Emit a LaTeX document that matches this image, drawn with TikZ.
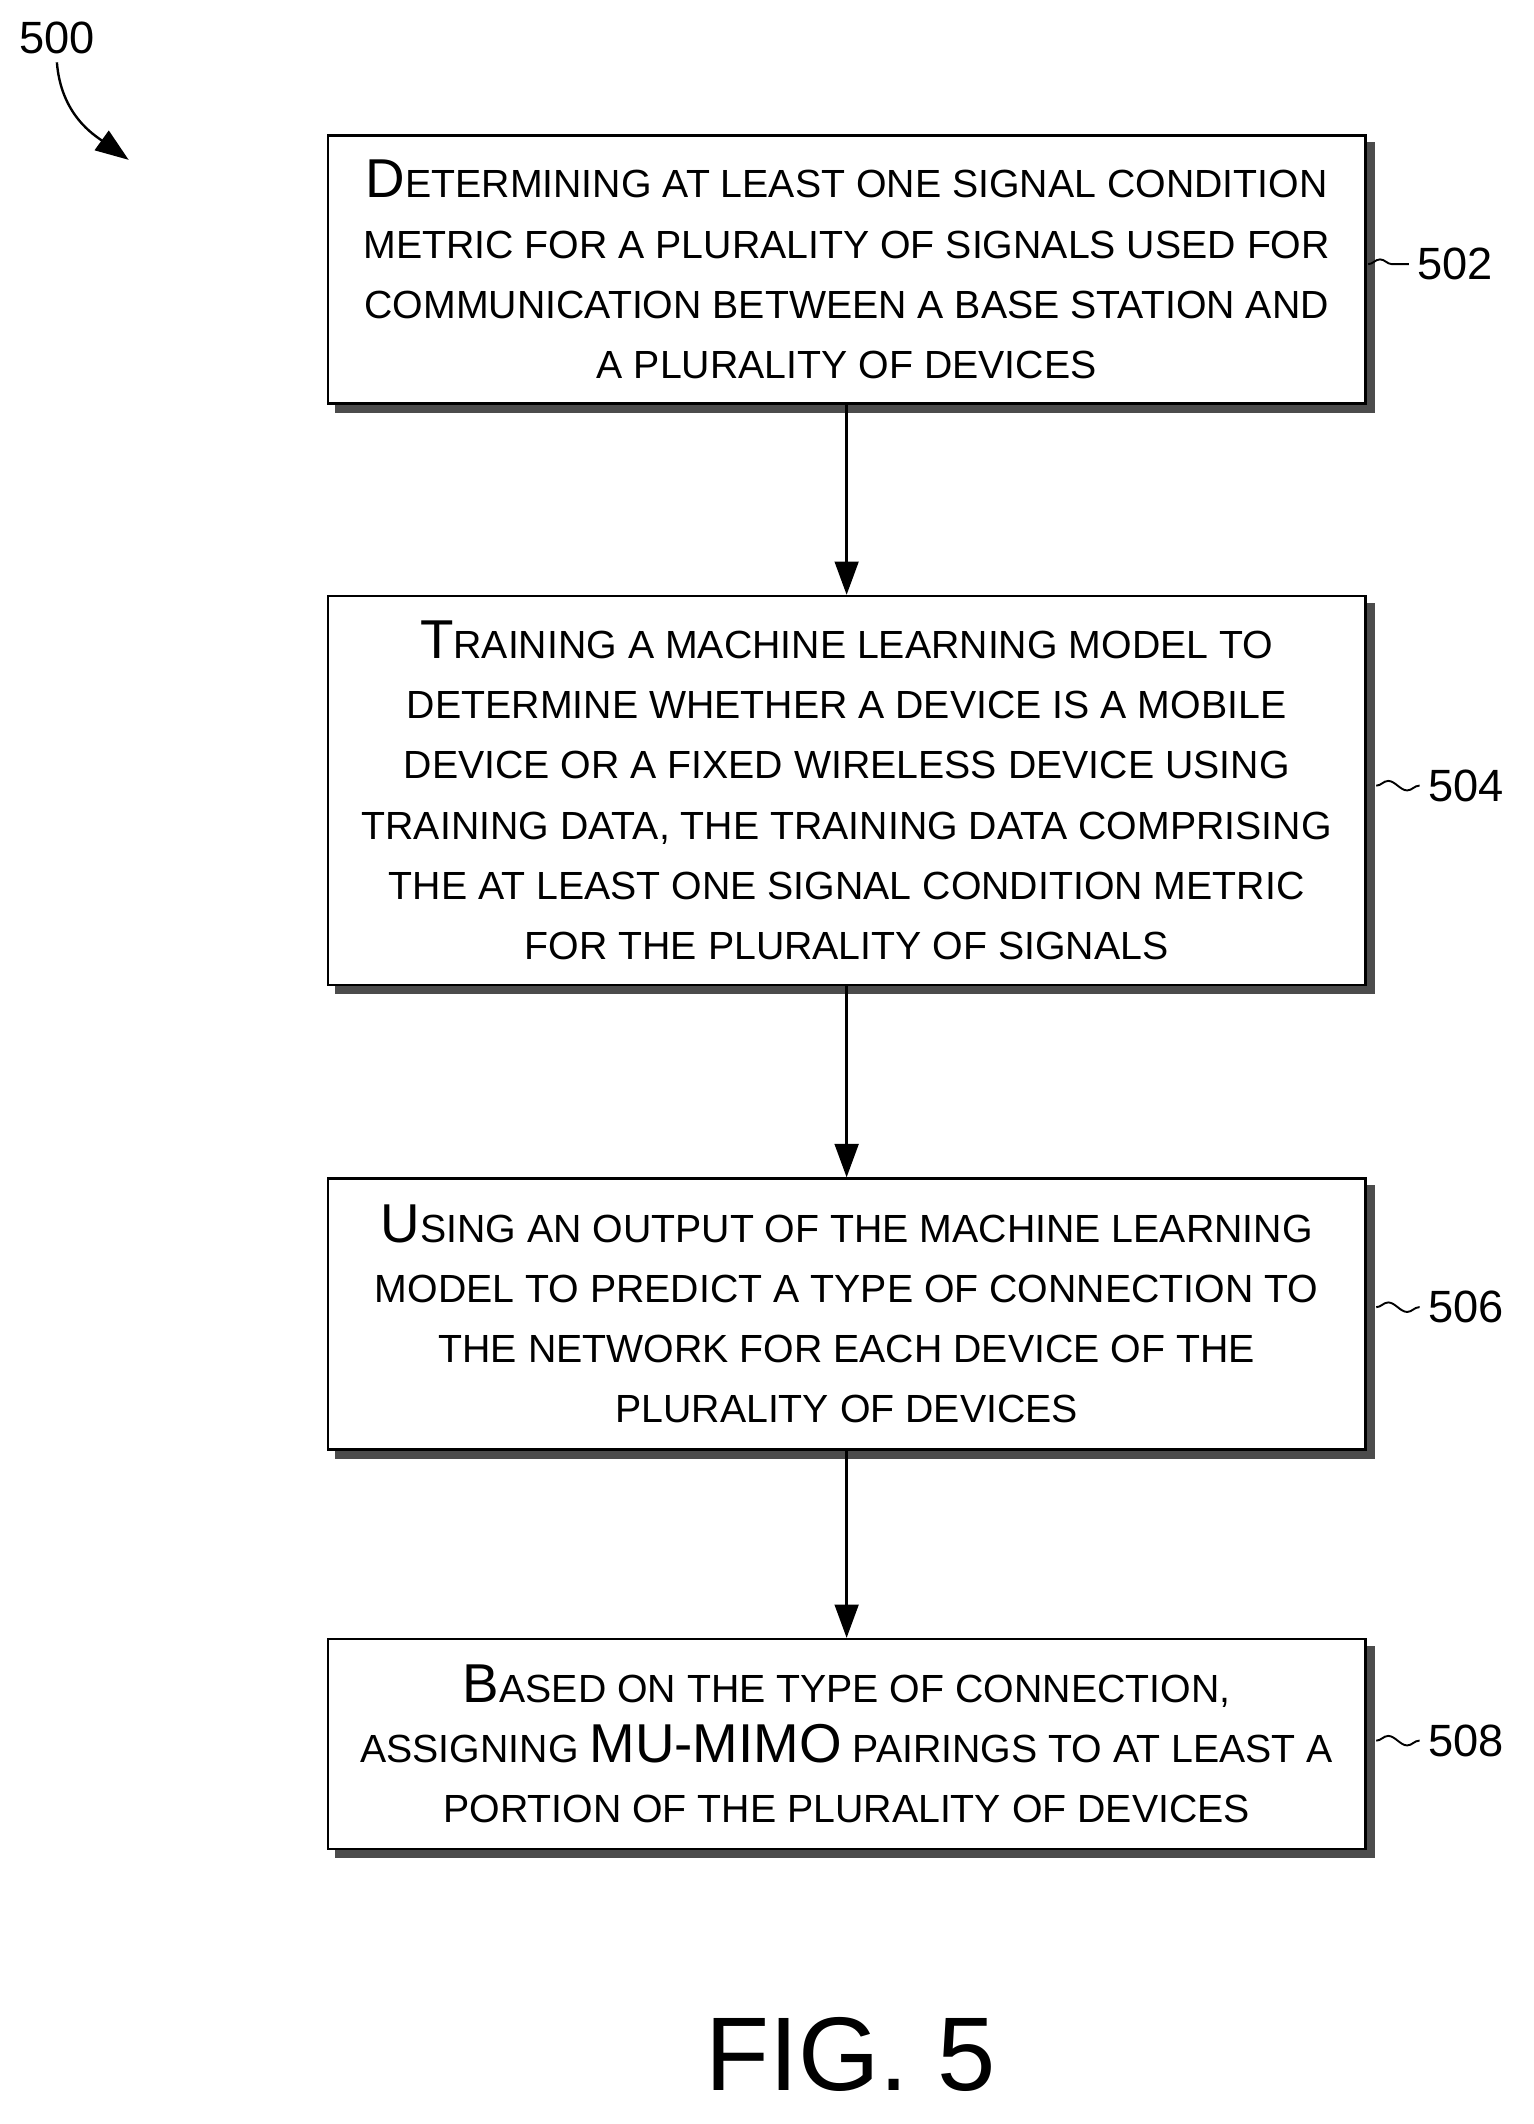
\documentclass[tikz,border=0pt]{standalone}
\usepackage{fontspec}
\setmainfont{Liberation Sans}
\usetikzlibrary{arrows.meta,decorations.pathmorphing}
\newcommand{\capl}[1]{{\fontsize{23}{25}\selectfont #1}}
\begin{document}
\begin{tikzpicture}[x=0.02cm,y=-0.02cm,
 box/.style={draw,line width=1pt,fill=white,minimum width=766*0.02cm,align=center,
   font=\fontsize{16.5}{25.3}\selectfont,
   preaction={draw=black!70,fill=black!70,transform canvas={xshift=0.12cm,yshift=-0.12cm}}},
 arr/.style={-{Triangle[length=14pt,width=10pt]},line width=1pt},
 lab/.style={font=\fontsize{19}{20}\selectfont,anchor=west},
 sq/.style={decorate,decoration={snake,amplitude=2pt,segment length=16pt},line width=0.8pt}]
\useasboundingbox (0,0) rectangle (1132,1568);
\node[box,minimum height=198*0.02cm] (b1) at (625,199) {\capl{D}ETERMINING AT LEAST ONE SIGNAL CONDITION\\METRIC FOR A PLURALITY OF SIGNALS USED FOR\\COMMUNICATION BETWEEN A BASE STATION AND\\A PLURALITY OF DEVICES};
\node[box,minimum height=287*0.02cm] (b2) at (625,583.5) {\capl{T}RAINING A MACHINE LEARNING MODEL TO\\DETERMINE WHETHER A DEVICE IS A MOBILE\\DEVICE OR A FIXED WIRELESS DEVICE USING\\TRAINING DATA, THE TRAINING DATA COMPRISING\\THE AT LEAST ONE SIGNAL CONDITION METRIC\\FOR THE PLURALITY OF SIGNALS};
\node[box,minimum height=200*0.02cm] (b3) at (625,970) {\capl{U}SING AN OUTPUT OF THE MACHINE LEARNING\\MODEL TO PREDICT A TYPE OF CONNECTION TO\\THE NETWORK FOR EACH DEVICE OF THE\\PLURALITY OF DEVICES};
\node[box,minimum height=155*0.02cm] (b4) at (625,1287.5) {\capl{B}ASED ON THE TYPE OF CONNECTION,\\ASSIGNING \capl{MU-MIMO} PAIRINGS TO AT LEAST A\\PORTION OF THE PLURALITY OF DEVICES};
\draw[arr] (b1.south) -- (b2.north);
\draw[arr] (b2.south) -- (b3.north);
\draw[arr] (b3.south) -- (b4.north);
\node[lab] (l1) at (1040,195) {502};
\node[lab] (l2) at (1048,580) {504};
\node[lab] (l3) at (1048,965) {506};
\node[lab] (l4) at (1048,1285) {508};
\draw[sq] (1010,195) -- (l1.west);
\draw[sq] (1016,580) -- (l2.west);
\draw[sq] (1016,965) -- (l3.west);
\draw[sq] (1016,1285) -- (l4.west);
\node[font=\fontsize{19}{20}\selectfont] (l0) at (42,28) {500};
\coordinate (t0) at (95,118);
\draw[arr] (l0.south) .. controls (45,85) and (70,100) .. (t0);
\node[font=\fontsize{44}{46}\selectfont] (fig) at (628,1517) {FIG. 5};
\end{tikzpicture}
\end{document}
